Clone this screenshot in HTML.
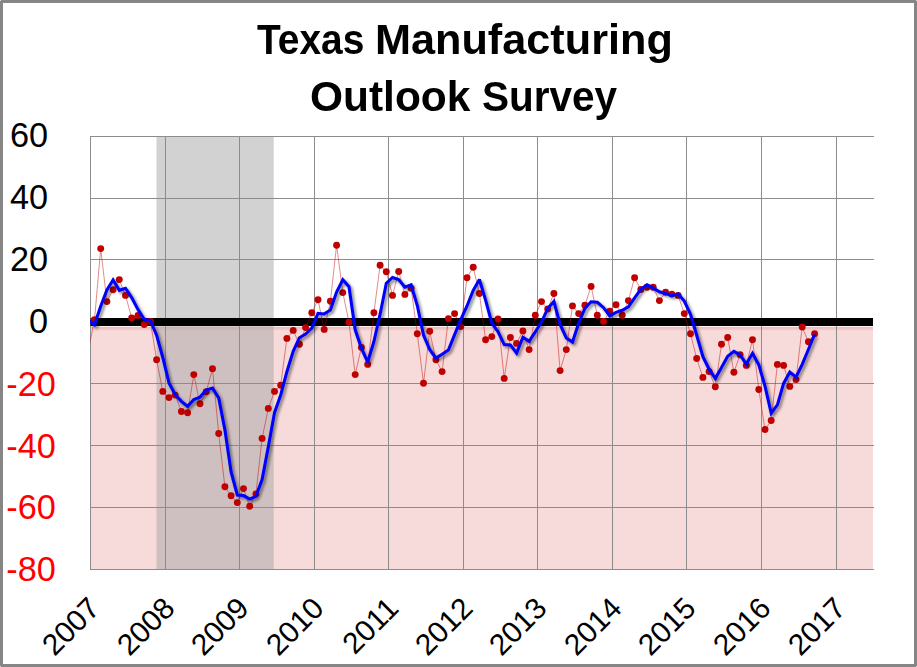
<!DOCTYPE html>
<html><head><meta charset="utf-8"><title>Texas Manufacturing Outlook Survey</title>
<style>
html,body{margin:0;padding:0;background:#fff}
body{width:917px;height:667px;position:relative;overflow:hidden;font-family:"Liberation Sans",sans-serif}
#frame{position:absolute;left:0;top:0;width:917px;height:667px;box-sizing:border-box;border:3px solid #868686}
.t{position:absolute;white-space:nowrap;font-weight:bold;color:#000;font-size:43.2px;line-height:44px;transform-origin:0 0}
.yl{position:absolute;white-space:nowrap;font-size:34.3px;line-height:36px;text-align:right;transform-origin:100% 50%}
.xl{position:absolute;white-space:nowrap;font-size:29.8px;line-height:30px;transform-origin:100% 50%}
.neg{color:#ff0000}
.cn{position:absolute;width:1px;height:1px;background:#d8d8d8}
</style></head><body>
<svg width="917" height="667" viewBox="0 0 917 667" style="position:absolute;left:0;top:0">
<defs><clipPath id="pc"><rect x="90.0" y="136.0" width="783.5" height="434.0"/></clipPath>
<filter id="sh" x="-5%" y="-5%" width="110%" height="115%"><feGaussianBlur in="SourceAlpha" stdDeviation="1.7"/><feOffset dx="2.2" dy="2.2"/><feComponentTransfer><feFuncA type="linear" slope="0.5"/></feComponentTransfer><feMerge><feMergeNode/><feMergeNode in="SourceGraphic"/></feMerge></filter><linearGradient id="pg" x1="0" y1="0" x2="0" y2="1"><stop offset="0" stop-color="#edbcbc"/><stop offset="0.5" stop-color="#f0c6c6"/><stop offset="1" stop-color="#f7dada"/></linearGradient></defs>
<rect x="90.5" y="322" width="782.5" height="247.5" fill="#f7dada"/>
<rect x="90.5" y="326" width="782.5" height="1" fill="#fcf1f1"/>
<rect x="90.5" y="327" width="782.5" height="4" fill="url(#pg)"/>
<rect x="156.5" y="136.5" width="117.2" height="433.0" fill="#a6a6a6" fill-opacity="0.5"/>
<path d="M90.0 136.5 H874.0 M90.0 198.5 H874.0 M90.0 259.5 H874.0 M90.0 383.5 H874.0 M90.0 445.5 H874.0 M90.0 507.5 H874.0 M90.0 569.5 H874.0 M90.5 136.5 V569.5 M165.5 136.5 V569.5 M239.5 136.5 V569.5 M314.5 136.5 V569.5 M388.5 136.5 V569.5 M463.5 136.5 V569.5 M537.5 136.5 V569.5 M612.5 136.5 V569.5 M686.5 136.5 V569.5 M761.5 136.5 V569.5 M836.5 136.5 V569.5" stroke="#8c8c8c" stroke-width="1" fill="none"/>
<rect x="90.5" y="318" width="782.5" height="8" fill="#000"/>
<g clip-path="url(#pc)">
<path d="M88.3 350.2 L94.5 319.8 L100.7 248.6 L106.9 301.6 L113.1 289.8 L119.3 279.6 L125.5 295.4 L131.7 318.0 L138.0 315.5 L144.2 324.5 L150.4 321.4 L156.6 359.8 L162.8 391.4 L169.0 397.6 L175.2 395.1 L181.4 411.5 L187.6 412.7 L193.8 374.6 L200.0 403.8 L206.2 391.7 L212.5 368.8 L218.7 433.5 L224.9 486.8 L231.1 495.7 L237.3 502.6 L243.5 488.6 L249.7 506.3 L255.9 493.9 L262.1 438.4 L268.3 408.4 L274.5 391.4 L280.7 385.2 L286.9 338.4 L293.2 330.4 L299.4 344.3 L305.6 327.6 L311.8 312.7 L318.0 299.7 L324.2 329.4 L330.4 301.3 L336.6 245.2 L342.8 292.6 L349.0 322.3 L355.2 374.6 L361.4 347.4 L367.7 364.4 L373.9 312.7 L380.1 265.3 L386.3 271.8 L392.5 295.4 L398.7 271.5 L404.9 294.4 L411.1 288.2 L417.3 333.8 L423.5 383.3 L429.7 331.3 L435.9 359.8 L442.1 371.6 L448.4 318.6 L454.6 313.6 L460.8 326.6 L467.0 277.7 L473.2 267.2 L479.4 293.5 L485.6 339.7 L491.8 336.6 L498.0 318.9 L504.2 378.4 L510.4 337.5 L516.6 343.4 L522.9 331.0 L529.1 349.6 L535.3 315.2 L541.5 301.6 L547.7 309.0 L553.9 293.5 L560.1 370.6 L566.3 349.6 L572.5 305.9 L578.7 313.6 L584.9 305.3 L591.1 286.4 L597.3 315.2 L603.6 321.4 L609.8 311.2 L616.0 304.7 L622.2 315.2 L628.4 300.6 L634.6 277.7 L640.8 289.5 L647.0 287.3 L653.2 287.3 L659.4 300.6 L665.6 292.3 L671.8 294.1 L678.1 295.4 L684.3 313.6 L690.5 333.8 L696.7 358.5 L702.9 377.4 L709.1 371.6 L715.3 386.7 L721.5 344.3 L727.7 337.5 L733.9 372.2 L740.1 354.8 L746.3 365.4 L752.5 339.7 L758.8 389.5 L765.0 429.5 L771.2 420.5 L777.4 364.4 L783.6 365.4 L789.8 386.4 L796.0 379.6 L802.2 327.0 L808.4 341.8 L814.6 333.8" stroke="#c00000" stroke-opacity="0.65" stroke-width="0.7" fill="none"/>
<g fill="#c00000"><circle cx="94.5" cy="319.8" r="3.45"/><circle cx="100.7" cy="248.6" r="3.45"/><circle cx="106.9" cy="301.6" r="3.45"/><circle cx="113.1" cy="289.8" r="3.45"/><circle cx="119.3" cy="279.6" r="3.45"/><circle cx="125.5" cy="295.4" r="3.45"/><circle cx="131.7" cy="318.0" r="3.45"/><circle cx="138.0" cy="315.5" r="3.45"/><circle cx="144.2" cy="324.5" r="3.45"/><circle cx="150.4" cy="321.4" r="3.45"/><circle cx="156.6" cy="359.8" r="3.45"/><circle cx="162.8" cy="391.4" r="3.45"/><circle cx="169.0" cy="397.6" r="3.45"/><circle cx="175.2" cy="395.1" r="3.45"/><circle cx="181.4" cy="411.5" r="3.45"/><circle cx="187.6" cy="412.7" r="3.45"/><circle cx="193.8" cy="374.6" r="3.45"/><circle cx="200.0" cy="403.8" r="3.45"/><circle cx="206.2" cy="391.7" r="3.45"/><circle cx="212.5" cy="368.8" r="3.45"/><circle cx="218.7" cy="433.5" r="3.45"/><circle cx="224.9" cy="486.8" r="3.45"/><circle cx="231.1" cy="495.7" r="3.45"/><circle cx="237.3" cy="502.6" r="3.45"/><circle cx="243.5" cy="488.6" r="3.45"/><circle cx="249.7" cy="506.3" r="3.45"/><circle cx="255.9" cy="493.9" r="3.45"/><circle cx="262.1" cy="438.4" r="3.45"/><circle cx="268.3" cy="408.4" r="3.45"/><circle cx="274.5" cy="391.4" r="3.45"/><circle cx="280.7" cy="385.2" r="3.45"/><circle cx="286.9" cy="338.4" r="3.45"/><circle cx="293.2" cy="330.4" r="3.45"/><circle cx="299.4" cy="344.3" r="3.45"/><circle cx="305.6" cy="327.6" r="3.45"/><circle cx="311.8" cy="312.7" r="3.45"/><circle cx="318.0" cy="299.7" r="3.45"/><circle cx="324.2" cy="329.4" r="3.45"/><circle cx="330.4" cy="301.3" r="3.45"/><circle cx="336.6" cy="245.2" r="3.45"/><circle cx="342.8" cy="292.6" r="3.45"/><circle cx="349.0" cy="322.3" r="3.45"/><circle cx="355.2" cy="374.6" r="3.45"/><circle cx="361.4" cy="347.4" r="3.45"/><circle cx="367.7" cy="364.4" r="3.45"/><circle cx="373.9" cy="312.7" r="3.45"/><circle cx="380.1" cy="265.3" r="3.45"/><circle cx="386.3" cy="271.8" r="3.45"/><circle cx="392.5" cy="295.4" r="3.45"/><circle cx="398.7" cy="271.5" r="3.45"/><circle cx="404.9" cy="294.4" r="3.45"/><circle cx="411.1" cy="288.2" r="3.45"/><circle cx="417.3" cy="333.8" r="3.45"/><circle cx="423.5" cy="383.3" r="3.45"/><circle cx="429.7" cy="331.3" r="3.45"/><circle cx="435.9" cy="359.8" r="3.45"/><circle cx="442.1" cy="371.6" r="3.45"/><circle cx="448.4" cy="318.6" r="3.45"/><circle cx="454.6" cy="313.6" r="3.45"/><circle cx="460.8" cy="326.6" r="3.45"/><circle cx="467.0" cy="277.7" r="3.45"/><circle cx="473.2" cy="267.2" r="3.45"/><circle cx="479.4" cy="293.5" r="3.45"/><circle cx="485.6" cy="339.7" r="3.45"/><circle cx="491.8" cy="336.6" r="3.45"/><circle cx="498.0" cy="318.9" r="3.45"/><circle cx="504.2" cy="378.4" r="3.45"/><circle cx="510.4" cy="337.5" r="3.45"/><circle cx="516.6" cy="343.4" r="3.45"/><circle cx="522.9" cy="331.0" r="3.45"/><circle cx="529.1" cy="349.6" r="3.45"/><circle cx="535.3" cy="315.2" r="3.45"/><circle cx="541.5" cy="301.6" r="3.45"/><circle cx="547.7" cy="309.0" r="3.45"/><circle cx="553.9" cy="293.5" r="3.45"/><circle cx="560.1" cy="370.6" r="3.45"/><circle cx="566.3" cy="349.6" r="3.45"/><circle cx="572.5" cy="305.9" r="3.45"/><circle cx="578.7" cy="313.6" r="3.45"/><circle cx="584.9" cy="305.3" r="3.45"/><circle cx="591.1" cy="286.4" r="3.45"/><circle cx="597.3" cy="315.2" r="3.45"/><circle cx="603.6" cy="321.4" r="3.45"/><circle cx="609.8" cy="311.2" r="3.45"/><circle cx="616.0" cy="304.7" r="3.45"/><circle cx="622.2" cy="315.2" r="3.45"/><circle cx="628.4" cy="300.6" r="3.45"/><circle cx="634.6" cy="277.7" r="3.45"/><circle cx="640.8" cy="289.5" r="3.45"/><circle cx="647.0" cy="287.3" r="3.45"/><circle cx="653.2" cy="287.3" r="3.45"/><circle cx="659.4" cy="300.6" r="3.45"/><circle cx="665.6" cy="292.3" r="3.45"/><circle cx="671.8" cy="294.1" r="3.45"/><circle cx="678.1" cy="295.4" r="3.45"/><circle cx="684.3" cy="313.6" r="3.45"/><circle cx="690.5" cy="333.8" r="3.45"/><circle cx="696.7" cy="358.5" r="3.45"/><circle cx="702.9" cy="377.4" r="3.45"/><circle cx="709.1" cy="371.6" r="3.45"/><circle cx="715.3" cy="386.7" r="3.45"/><circle cx="721.5" cy="344.3" r="3.45"/><circle cx="727.7" cy="337.5" r="3.45"/><circle cx="733.9" cy="372.2" r="3.45"/><circle cx="740.1" cy="354.8" r="3.45"/><circle cx="746.3" cy="365.4" r="3.45"/><circle cx="752.5" cy="339.7" r="3.45"/><circle cx="758.8" cy="389.5" r="3.45"/><circle cx="765.0" cy="429.5" r="3.45"/><circle cx="771.2" cy="420.5" r="3.45"/><circle cx="777.4" cy="364.4" r="3.45"/><circle cx="783.6" cy="365.4" r="3.45"/><circle cx="789.8" cy="386.4" r="3.45"/><circle cx="796.0" cy="379.6" r="3.45"/><circle cx="802.2" cy="327.0" r="3.45"/><circle cx="808.4" cy="341.8" r="3.45"/><circle cx="814.6" cy="333.8" r="3.45"/></g>
<path d="M88.3 320.1 L94.5 324.8 L100.7 306.2 L106.9 290.0 L113.1 280.0 L119.3 290.3 L125.5 288.2 L131.7 297.6 L138.0 309.6 L144.2 319.3 L150.4 320.5 L156.6 335.2 L162.8 357.5 L169.0 382.9 L175.2 394.7 L181.4 401.4 L187.6 406.4 L193.8 399.6 L200.0 397.1 L206.2 390.0 L212.5 388.1 L218.7 398.0 L224.9 429.7 L231.1 472.0 L237.3 495.0 L243.5 495.6 L249.7 499.1 L255.9 496.3 L262.1 479.5 L268.3 446.9 L274.5 412.7 L280.7 395.0 L286.9 371.7 L293.2 351.3 L299.4 337.7 L305.6 334.1 L311.8 328.2 L318.0 313.3 L324.2 313.9 L330.4 310.1 L336.6 292.0 L342.8 279.7 L349.0 286.7 L355.2 329.8 L361.4 348.1 L367.7 362.2 L373.9 341.5 L380.1 314.2 L386.3 283.3 L392.5 277.5 L398.7 279.6 L404.9 287.1 L411.1 284.7 L417.3 305.5 L423.5 335.1 L429.7 349.5 L435.9 358.1 L442.1 354.2 L448.4 350.0 L454.6 334.6 L460.8 319.6 L467.0 306.0 L473.2 290.5 L479.4 279.5 L485.6 300.1 L491.8 323.2 L498.0 331.7 L504.2 344.6 L510.4 344.9 L516.6 353.1 L522.9 337.3 L529.1 341.3 L535.3 331.9 L541.5 322.1 L547.7 308.6 L553.9 301.4 L560.1 324.4 L566.3 337.9 L572.5 342.0 L578.7 323.0 L584.9 308.3 L591.1 301.8 L597.3 302.3 L603.6 307.7 L609.8 315.9 L616.0 312.4 L622.2 310.3 L628.4 306.8 L634.6 297.8 L640.8 289.3 L647.0 284.8 L653.2 288.0 L659.4 291.8 L665.6 293.4 L671.8 295.7 L678.1 293.9 L684.3 301.0 L690.5 314.3 L696.7 335.3 L702.9 356.6 L709.1 369.2 L715.3 378.6 L721.5 367.5 L727.7 356.2 L733.9 351.3 L740.1 354.8 L746.3 364.1 L752.5 353.3 L758.8 364.8 L765.0 386.2 L771.2 413.2 L777.4 404.8 L783.6 383.4 L789.8 372.1 L796.0 377.1 L802.2 364.3 L808.4 349.5 L814.6 334.2" stroke="#0000ff" stroke-width="3.05" fill="none" stroke-linejoin="miter" stroke-miterlimit="2.5" stroke-linecap="butt" filter="url(#sh)"/>
</g>
</svg>
<div id="frame"></div>
<div class="cn" style="left:0;top:0"></div><div class="cn" style="right:0;top:0"></div><div class="cn" style="left:0;bottom:0"></div><div class="cn" style="right:0;bottom:0"></div>
<div class="t" style="left:256.5px;top:16.7px;transform:scaleX(0.90)">Texas</div>
<div class="t" style="left:375.4px;top:16.7px;transform:scaleX(1.001)">Manufacturing</div>
<div class="t" style="left:309.9px;top:74px;transform:scaleX(0.983)">Outlook</div>
<div class="t" style="left:482.1px;top:74px;transform:scaleX(0.938)">Survey</div>
<div class="yl" style="right:868.9px;top:117.3px">60</div>
<div class="yl" style="right:868.9px;top:179.3px">40</div>
<div class="yl" style="right:868.9px;top:241.3px">20</div>
<div class="yl" style="right:868.9px;top:303.3px">0</div>
<div class="yl neg" style="right:861.1px;top:365.7px">-20</div>
<div class="yl neg" style="right:861.1px;top:427.7px">-40</div>
<div class="yl neg" style="right:861.1px;top:488.9px">-60</div>
<div class="yl neg" style="right:861.1px;top:551.2px">-80</div>
<div class="xl" style="right:822.3px;top:587.6px;transform:rotate(-45deg)">2007</div>
<div class="xl" style="right:747.3px;top:587.6px;transform:rotate(-45deg)">2008</div>
<div class="xl" style="right:673.3px;top:587.6px;transform:rotate(-45deg)">2009</div>
<div class="xl" style="right:598.3px;top:587.6px;transform:rotate(-45deg)">2010</div>
<div class="xl" style="right:524.3px;top:587.6px;transform:rotate(-45deg)">2011</div>
<div class="xl" style="right:449.3px;top:587.6px;transform:rotate(-45deg)">2012</div>
<div class="xl" style="right:375.3px;top:587.6px;transform:rotate(-45deg)">2013</div>
<div class="xl" style="right:300.3px;top:587.6px;transform:rotate(-45deg)">2014</div>
<div class="xl" style="right:226.3px;top:587.6px;transform:rotate(-45deg)">2015</div>
<div class="xl" style="right:151.3px;top:587.6px;transform:rotate(-45deg)">2016</div>
<div class="xl" style="right:76.3px;top:587.6px;transform:rotate(-45deg)">2017</div>
</body></html>
